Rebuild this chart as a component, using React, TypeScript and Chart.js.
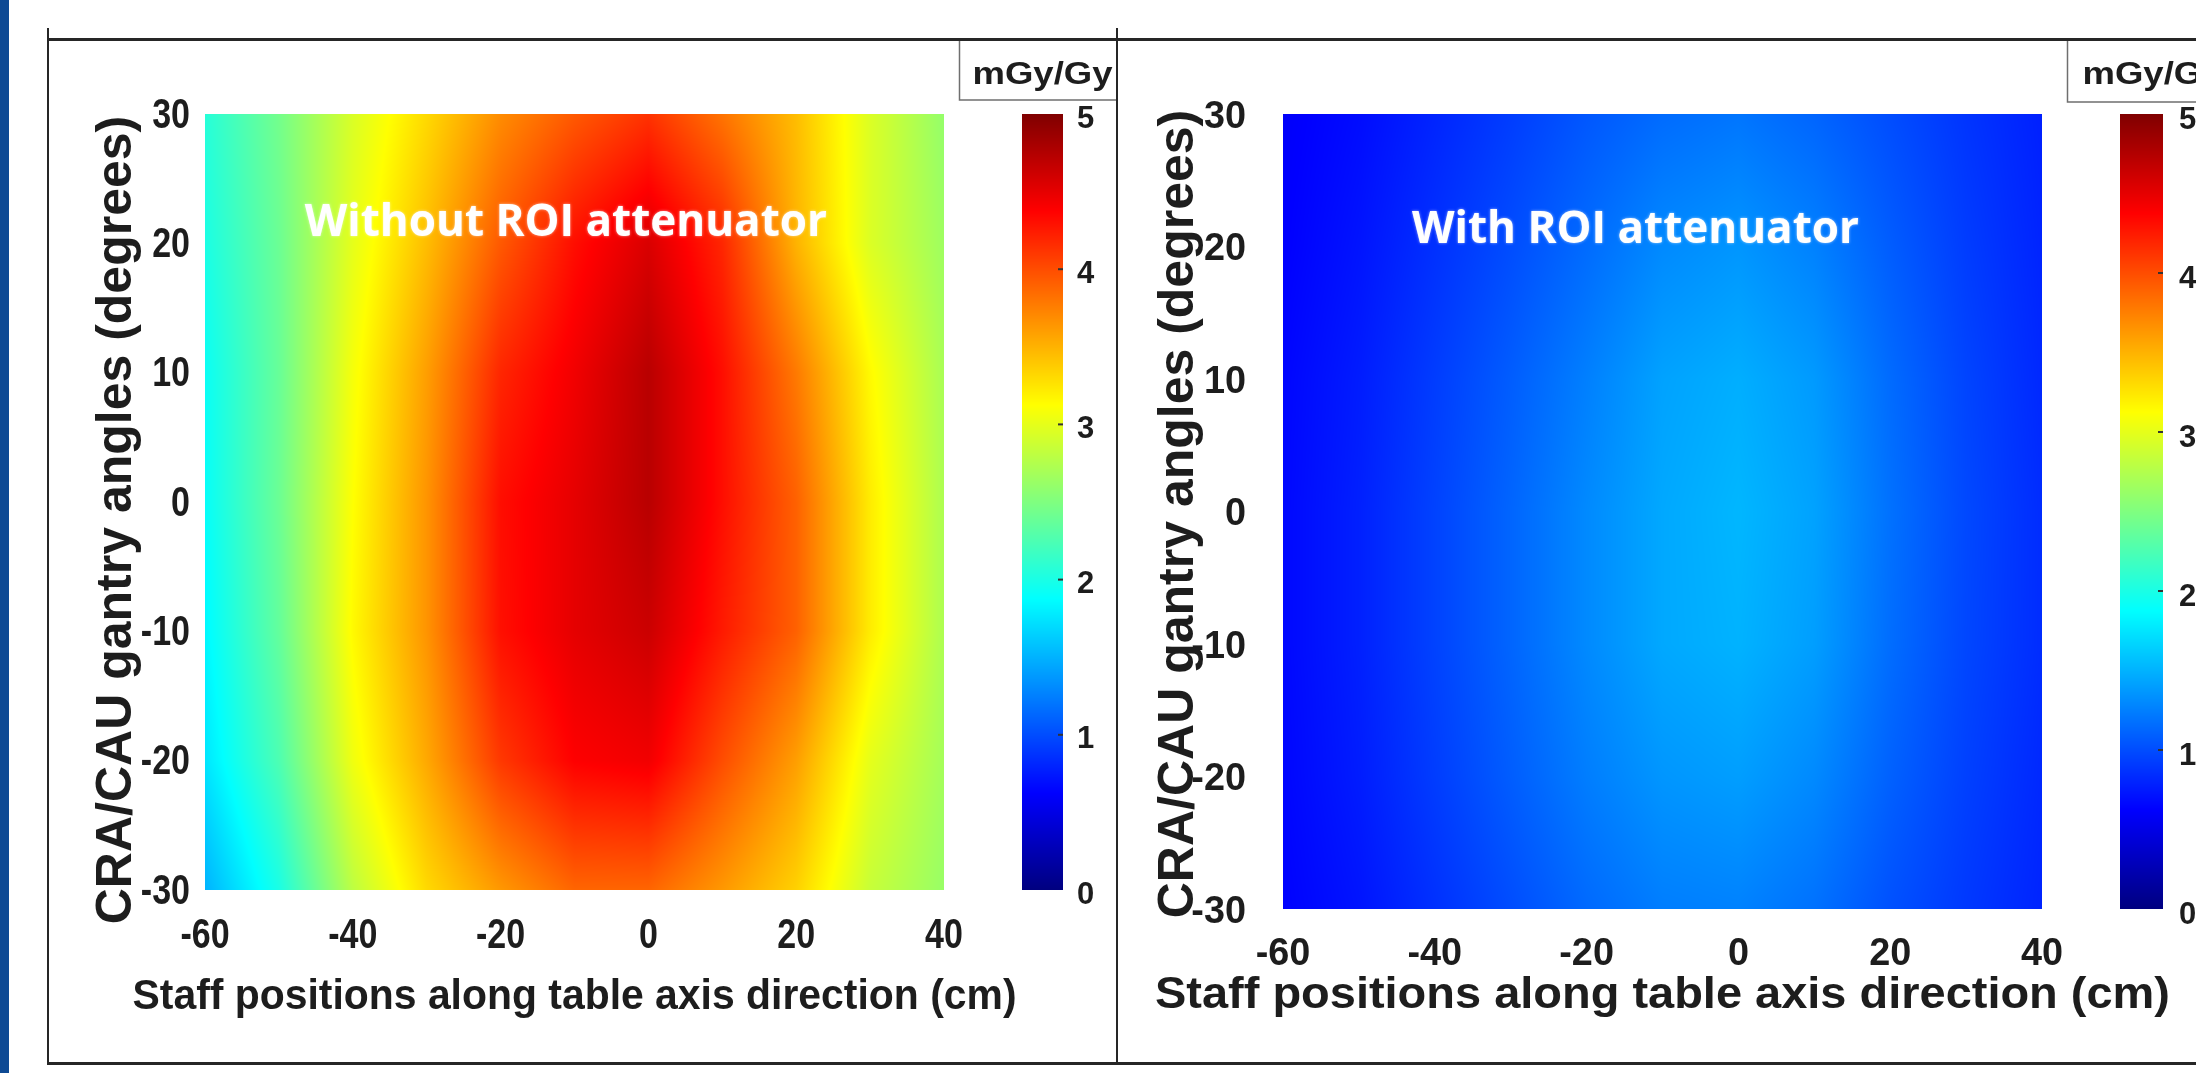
import React, { useEffect, useRef } from "react";
import { Chart, registerables } from "chart.js";

Chart.register(...registerables);

// ---------------- data ----------------
const xPositions = [-60, -50, -40, -30, -20, -10, 0, 10, 20, 30, 40];
const yAngles = [30, 20, 10, 0, -10, -20, -30];

// rows follow yAngles (top to bottom), columns follow xPositions
const doseWithoutROI = [
  [2.06, 2.44, 2.94, 3.31, 3.69, 3.94, 4.13, 3.81, 3.45, 2.95, 2.6],
  [2.0, 2.4, 3.0, 3.45, 3.94, 4.31, 4.56, 4.19, 3.5, 2.95, 2.65],
  [1.92, 2.38, 3.08, 3.6, 4.19, 4.44, 4.72, 4.31, 3.78, 3.15, 2.7],
  [1.9, 2.4, 3.12, 3.65, 4.31, 4.5, 4.72, 4.31, 3.9, 3.22, 2.72],
  [1.84, 2.36, 3.15, 3.65, 4.3, 4.5, 4.63, 4.25, 3.9, 3.22, 2.72],
  [1.75, 2.25, 3.05, 3.55, 4.1, 4.38, 4.44, 4.0, 3.6, 3.0, 2.68],
  [1.5, 2.0, 2.8, 3.31, 3.63, 3.88, 3.88, 3.63, 3.35, 2.85, 2.62],
];

const doseWithROI = [
  [0.6, 0.68, 0.8, 0.92, 1.05, 1.15, 1.2, 1.12, 1.0, 0.88, 0.78],
  [0.62, 0.72, 0.86, 1.0, 1.15, 1.3, 1.36, 1.26, 1.08, 0.92, 0.8],
  [0.65, 0.76, 0.92, 1.08, 1.25, 1.42, 1.48, 1.38, 1.15, 0.96, 0.82],
  [0.66, 0.78, 0.95, 1.12, 1.3, 1.45, 1.52, 1.42, 1.18, 0.98, 0.84],
  [0.66, 0.78, 0.95, 1.12, 1.3, 1.45, 1.5, 1.4, 1.16, 0.97, 0.84],
  [0.65, 0.76, 0.92, 1.08, 1.24, 1.36, 1.4, 1.3, 1.1, 0.94, 0.82],
  [0.63, 0.72, 0.86, 1.0, 1.14, 1.24, 1.26, 1.18, 1.02, 0.9, 0.8],
];

const xTickValues = [-60, -40, -20, 0, 20, 40];
const yTickValues = [-30, -20, -10, 0, 10, 20, 30];
const colorbarTicks = [0, 1, 2, 3, 4, 5];
const unitLabel = "mGy/Gy";
const xTitle = "Staff positions along table axis direction (cm)";
const yTitle = "CRA/CAU gantry angles (degrees)";
const panelLabels = ["Without ROI attenuator", "With ROI attenuator"];

// ---------------- helpers ----------------
const clamp = (v: number, a: number, b: number) => Math.max(a, Math.min(b, v));

function jet(t: number): [number, number, number] {
  t = clamp(t, 0, 1);
  const r = clamp(1.5 - Math.abs(4 * t - 3), 0, 1);
  const g = clamp(1.5 - Math.abs(4 * t - 2), 0, 1);
  const b = clamp(1.5 - Math.abs(4 * t - 1), 0, 1);
  return [Math.round(r * 255), Math.round(g * 255), Math.round(b * 255)];
}

function interp(grid: number[][], xv: number, yv: number) {
  const nx = xPositions.length;
  const ny = yAngles.length;
  let i = 0;
  while (i < nx - 2 && xv > xPositions[i + 1]) i++;
  let j = 0;
  while (j < ny - 2 && yv < yAngles[j + 1]) j++;
  const fx = clamp((xv - xPositions[i]) / (xPositions[i + 1] - xPositions[i]), 0, 1);
  const fy = clamp((yAngles[j] - yv) / (yAngles[j] - yAngles[j + 1]), 0, 1);
  const v00 = grid[j][i];
  const v01 = grid[j][i + 1];
  const v10 = grid[j + 1][i];
  const v11 = grid[j + 1][i + 1];
  return (v00 * (1 - fx) + v01 * fx) * (1 - fy) + (v10 * (1 - fx) + v11 * fx) * fy;
}

const SANS = "'Liberation Sans', Arial, sans-serif";
const INK = "#1d1d1d";

type PanelCfg = {
  grid: number[][];
  label: string;
  labelAt: [number, number];
  left: number;
  width: number;
  plotTop: number;
  yAxisW: number;
  cbAxisW: number;
  xAxisH: number;
  tickSize: number;
  tickScale: number;
  xTickDy: number;
  yTickPad: number;
  yTickDy: number;
  xTitleSize: number;
  xTitleWidth: number;
  xTitleBase: number;
  yTitleX: number;
  yTitleY: number;
  cbPad: number;
  cbDy: number;
  cbOffset: number;
  cbWidth: number;
  boxOffset: number;
  boxBottom: number;
  textOffset: number;
};

const panels: PanelCfg[] = [
  {
    grid: doseWithoutROI,
    label: panelLabels[0],
    labelAt: [-46.5, 21.5],
    left: 0,
    width: 1117,
    plotTop: 114,
    yAxisW: 205,
    cbAxisW: 173,
    xAxisH: 183,
    tickSize: 42,
    tickScale: 0.81,
    xTickDy: 46,
    yTickPad: 15,
    yTickDy: 2,
    xTitleSize: 43,
    xTitleWidth: 884,
    xTitleBase: 1009,
    yTitleX: 117,
    yTitleY: 520,
    cbPad: 133,
    cbDy: 5,
    cbOffset: 78,
    cbWidth: 41,
    boxOffset: 15,
    boxBottom: 100,
    textOffset: 13,
  },
  {
    grid: doseWithROI,
    label: panelLabels[1],
    labelAt: [-43, 21.2],
    left: 1117,
    width: 1079,
    plotTop: 114,
    yAxisW: 166,
    cbAxisW: 154,
    xAxisH: 164,
    tickSize: 39,
    tickScale: 0.97,
    xTickDy: 45,
    yTickPad: 37,
    yTickDy: 3,
    xTitleSize: 44,
    xTitleWidth: 1015,
    xTitleBase: 1008,
    yTitleX: 62,
    yTitleY: 514,
    cbPad: 137,
    cbDy: 6,
    cbOffset: 78,
    cbWidth: 43,
    boxOffset: 25,
    boxBottom: 102,
    textOffset: 15,
  },
];

function drawScaled(
  ctx: CanvasRenderingContext2D,
  text: string,
  x: number,
  y: number,
  hs: number,
  align: CanvasTextAlign,
  baseline: CanvasTextBaseline,
  rot = 0
) {
  ctx.save();
  ctx.translate(x, y);
  if (rot) ctx.rotate(rot);
  ctx.scale(hs, 1);
  ctx.textAlign = align;
  ctx.textBaseline = baseline;
  ctx.fillText(text, 0, 0);
  ctx.restore();
}

function makePlugins(cfg: PanelCfg) {
  const heat = {
    id: "heatmap",
    beforeDatasetsDraw(chart: any) {
      const { ctx, chartArea: a, scales } = chart;
      const sx = scales.x;
      const sy = scales.y;
      const cb = scales.cb;
      const L = Math.round(a.left);
      const T = Math.round(a.top);
      const w = Math.round(a.right) - L;
      const h = Math.round(a.bottom) - T;
      const img = ctx.createImageData(w, h);
      const xv = new Float64Array(w);
      const yv = new Float64Array(h);
      for (let p = 0; p < w; p++) xv[p] = sx.getValueForPixel(L + p + 0.5);
      for (let q = 0; q < h; q++) yv[q] = sy.getValueForPixel(T + q + 0.5);
      const span = cb.max - cb.min;
      let k = 0;
      for (let q = 0; q < h; q++) {
        for (let p = 0; p < w; p++) {
          const v = interp(cfg.grid, xv[p], yv[q]);
          const c = jet((v - cb.min) / span);
          img.data[k++] = c[0];
          img.data[k++] = c[1];
          img.data[k++] = c[2];
          img.data[k++] = 255;
        }
      }
      ctx.putImageData(img, L, T);

      // colorbar
      const top = Math.round(cb.getPixelForValue(cb.max));
      const bot = Math.round(cb.getPixelForValue(cb.min));
      const cx = Math.round(cb.left + cfg.cbOffset);
      for (let q = top; q < bot; q++) {
        const v = cb.getValueForPixel(q + 0.5);
        const c = jet((v - cb.min) / span);
        ctx.fillStyle = `rgb(${c[0]},${c[1]},${c[2]})`;
        ctx.fillRect(cx, q, cfg.cbWidth, 1);
      }
      ctx.save();
      ctx.strokeStyle = "#333";
      ctx.lineWidth = 2;
      for (const t of colorbarTicks) {
        if (t === cb.min || t === cb.max) continue;
        const py = cb.getPixelForValue(t);
        ctx.beginPath();
        ctx.moveTo(cx + cfg.cbWidth - 5, py);
        ctx.lineTo(cx + cfg.cbWidth, py);
        ctx.stroke();
      }
      ctx.restore();
    },
    afterDatasetsDraw(chart: any) {
      const { ctx, scales } = chart;
      ctx.save();
      ctx.font = "700 44px 'Open Sans', 'Liberation Sans', sans-serif";
      ctx.fillStyle = "#ffffff";
      ctx.textAlign = "left";
      ctx.textBaseline = "middle";
      ctx.shadowColor = "rgba(255,255,255,0.6)";
      ctx.shadowBlur = 3;
      ctx.fillText(
        cfg.label,
        scales.x.getPixelForValue(cfg.labelAt[0]),
        scales.y.getPixelForValue(cfg.labelAt[1])
      );
      ctx.restore();
    },
    afterDraw(chart: any) {
      const { ctx, scales, chartArea: a } = chart;
      const sx = scales.x;
      const sy = scales.y;
      const cb = scales.cb;
      ctx.save();
      ctx.fillStyle = INK;

      // tick labels
      ctx.font = `700 ${cfg.tickSize}px ${SANS}`;
      for (const v of xTickValues) {
        drawScaled(ctx, String(v), sx.getPixelForValue(v), a.bottom + cfg.xTickDy, cfg.tickScale, "center", "middle");
      }
      for (const v of yTickValues) {
        drawScaled(ctx, String(v), a.left - cfg.yTickPad, sy.getPixelForValue(v) + cfg.yTickDy, cfg.tickScale, "right", "middle");
      }
      ctx.font = `700 31px ${SANS}`;
      for (const v of colorbarTicks) {
        drawScaled(ctx, String(v), cb.left + cfg.cbPad, cb.getPixelForValue(v) + cfg.cbDy, 1, "left", "middle");
      }

      // axis titles
      ctx.font = `700 ${cfg.xTitleSize}px ${SANS}`;
      const tw = ctx.measureText(xTitle).width;
      drawScaled(ctx, xTitle, (a.left + a.right) / 2, cfg.xTitleBase, cfg.xTitleWidth / tw, "center", "alphabetic");
      ctx.font = `700 50px ${SANS}`;
      drawScaled(ctx, yTitle, cfg.yTitleX, cfg.yTitleY, 1, "center", "middle", -Math.PI / 2);

      // unit box
      const bx = Math.round(cb.left + cfg.boxOffset) + 0.5;
      ctx.strokeStyle = "#6f6f6f";
      ctx.lineWidth = 1.5;
      ctx.beginPath();
      ctx.moveTo(bx, 39);
      ctx.lineTo(bx, cfg.boxBottom);
      ctx.lineTo(chart.width + 5, cfg.boxBottom);
      ctx.stroke();
      ctx.font = `700 31px ${SANS}`;
      const mw = ctx.measureText(unitLabel).width;
      drawScaled(ctx, unitLabel, bx + cfg.textOffset, 84, 140 / mw, "left", "alphabetic");
      ctx.restore();
    },
  };
  return [heat];
}

function Panel({ cfg }: { cfg: PanelCfg }) {
  const ref = useRef<HTMLCanvasElement | null>(null);
  useEffect(() => {
    const canvas = ref.current;
    if (!canvas) return;
    const points: { x: number; y: number }[] = [];
    yAngles.forEach((yy) => xPositions.forEach((xx) => points.push({ x: xx, y: yy })));
    const hidden = { display: false };
    const chart = new Chart(canvas, {
      type: "scatter",
      data: {
        datasets: [
          {
            data: points,
            pointRadius: 0,
            pointHoverRadius: 0,
            showLine: false,
          },
        ],
      },
      options: {
        responsive: false,
        animation: false,
        devicePixelRatio: 1,
        events: [],
        layout: { padding: { top: cfg.plotTop, left: 0, right: 0, bottom: 0 } },
        plugins: { legend: { display: false }, tooltip: { enabled: false } },
        scales: {
          x: {
            type: "linear",
            position: "bottom",
            min: xTickValues[0],
            max: xTickValues[xTickValues.length - 1],
            afterBuildTicks: (s: any) => {
              s.ticks = xTickValues.map((v) => ({ value: v }));
            },
            afterFit: (s: any) => {
              s.height = cfg.xAxisH;
            },
            grid: { display: false, drawTicks: false },
            border: { display: false },
            ticks: hidden,
            title: hidden,
          },
          y: {
            type: "linear",
            position: "left",
            min: yTickValues[0],
            max: yTickValues[yTickValues.length - 1],
            afterBuildTicks: (s: any) => {
              s.ticks = yTickValues.map((v) => ({ value: v }));
            },
            afterFit: (s: any) => {
              s.width = cfg.yAxisW;
            },
            grid: { display: false, drawTicks: false },
            border: { display: false },
            ticks: hidden,
            title: hidden,
          },
          cb: {
            type: "linear",
            axis: "y",
            position: "right",
            min: colorbarTicks[0],
            max: colorbarTicks[colorbarTicks.length - 1],
            afterBuildTicks: (s: any) => {
              s.ticks = colorbarTicks.map((v) => ({ value: v }));
            },
            afterFit: (s: any) => {
              s.width = cfg.cbAxisW;
            },
            grid: { display: false, drawTicks: false },
            border: { display: false },
            ticks: hidden,
          },
        },
      } as any,
      plugins: makePlugins(cfg) as any,
    });
    return () => chart.destroy();
  }, [cfg]);
  return (
    <canvas
      ref={ref}
      width={cfg.width}
      height={1073}
      style={{ position: "absolute", left: cfg.left, top: 0, width: cfg.width, height: 1073 }}
    />
  );
}

const line = (l: number, t: number, w: number, h: number): React.CSSProperties => ({
  position: "absolute",
  left: l,
  top: t,
  width: w,
  height: h,
  background: "#262626",
});

export default function App() {
  useEffect(() => {
    document.body.style.margin = "0";
    document.body.style.overflow = "hidden";
    document.body.style.background = "#ffffff";
  }, []);
  return (
    <div style={{ position: "relative", width: 2196, height: 1073, overflow: "hidden", background: "#fff" }}>
      {panels.map((p, i) => (
        <Panel key={i} cfg={p} />
      ))}
      <div style={{ position: "absolute", left: 0, top: 0, width: 9, height: 1073, background: "rgb(14,74,148)" }} />
      <div style={line(47, 38, 2149, 3)} />
      <div style={line(47, 28, 2, 1037)} />
      <div style={line(1116, 28, 2, 1037)} />
      <div style={line(47, 1062, 2149, 3)} />
    </div>
  );
}
